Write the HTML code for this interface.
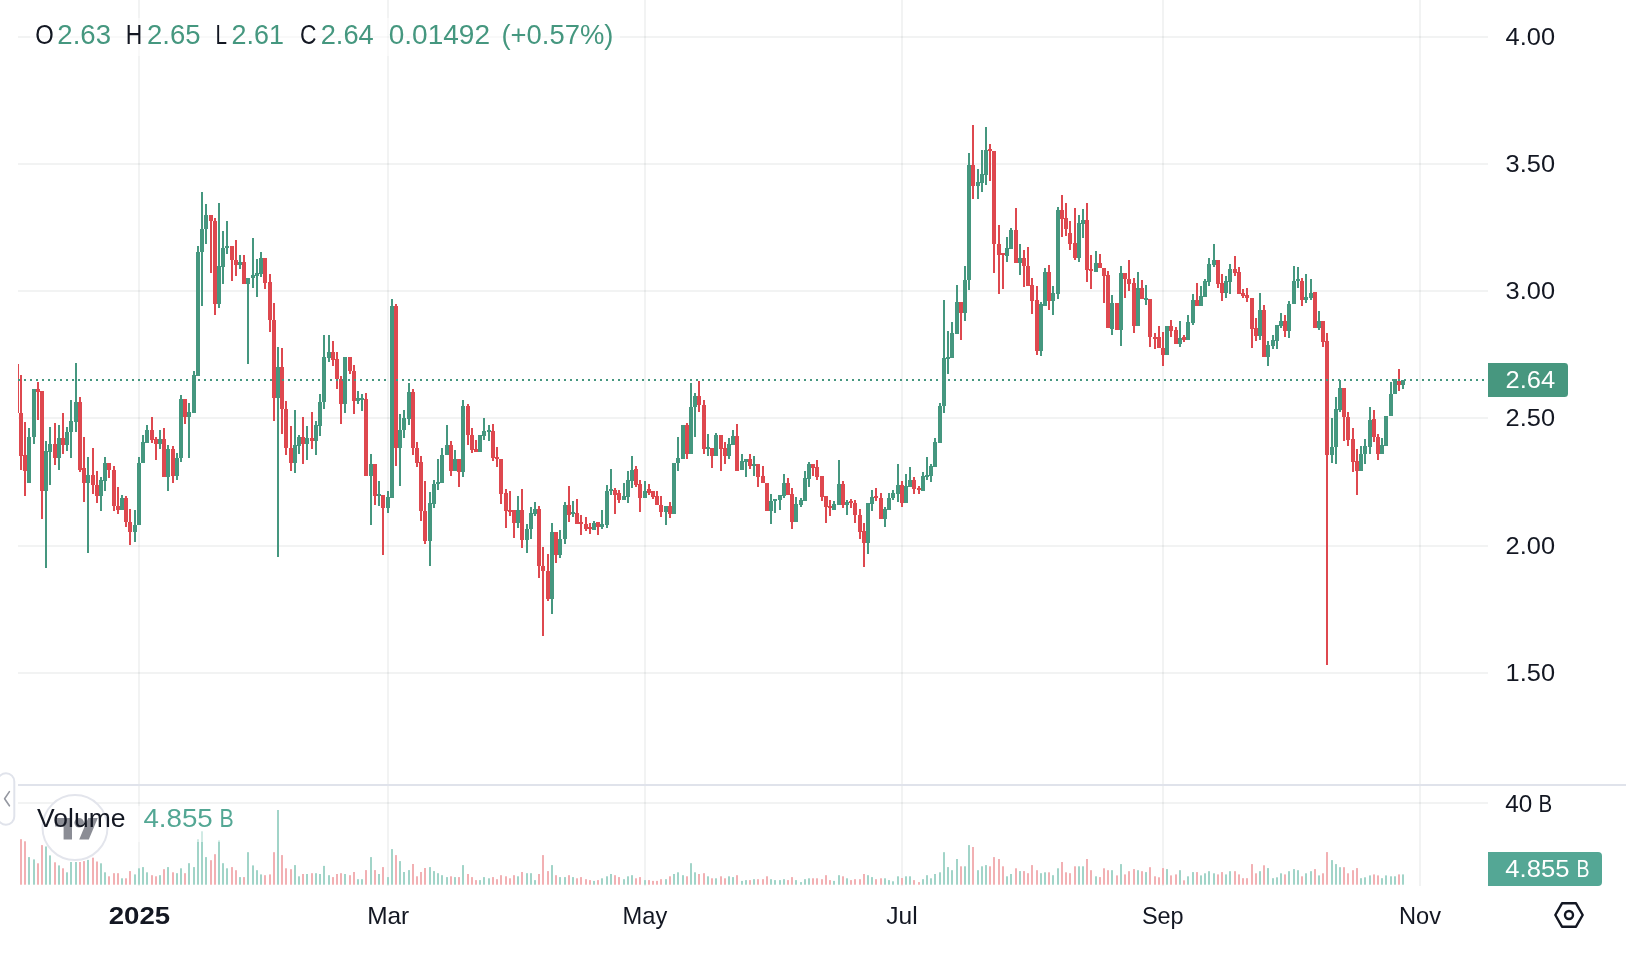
<!DOCTYPE html><html><head><meta charset="utf-8"><title>chart</title>
<style>html,body{margin:0;padding:0;background:#fff;}body{width:1626px;height:954px;overflow:hidden;font-family:"Liberation Sans",sans-serif;}svg{display:block;will-change:transform}text{font-family:"Liberation Sans",sans-serif;}</style></head><body>
<svg width="1626" height="954" viewBox="0 0 1626 954">
<rect width="1626" height="954" fill="#fff"/>
<defs><clipPath id="pane"><rect x="18" y="0" width="1470" height="886"/></clipPath></defs>
<g fill="#2a2e39" fill-opacity="0.06">
<rect x="18" y="36" width="1470" height="2"/>
<rect x="18" y="163" width="1470" height="2"/>
<rect x="18" y="290" width="1470" height="2"/>
<rect x="18" y="417" width="1470" height="2"/>
<rect x="18" y="545" width="1470" height="2"/>
<rect x="18" y="672" width="1470" height="2"/>
<rect x="18" y="802" width="1470" height="2"/>
<rect x="138" y="0" width="2" height="886"/>
<rect x="387" y="0" width="2" height="886"/>
<rect x="644" y="0" width="2" height="886"/>
<rect x="901" y="0" width="2" height="886"/>
<rect x="1162" y="0" width="2" height="886"/>
<rect x="1419" y="0" width="2" height="886"/>
</g>
<rect x="18" y="784" width="1608" height="2" fill="#e0e3eb"/>
<g clip-path="url(#pane)">
<rect x="20" y="839.2" width="2" height="45.5" fill="#f2b0b3"/>
<rect x="24" y="841.3" width="2" height="43.4" fill="#f2b0b3"/>
<rect x="28" y="857.1" width="2" height="27.6" fill="#a1d4c8"/>
<rect x="33" y="859.4" width="2" height="25.3" fill="#a1d4c8"/>
<rect x="37" y="863.3" width="2" height="21.4" fill="#f2b0b3"/>
<rect x="41" y="845.1" width="2" height="39.6" fill="#f2b0b3"/>
<rect x="45" y="846.5" width="2" height="38.2" fill="#a1d4c8"/>
<rect x="49" y="855.4" width="2" height="29.3" fill="#a1d4c8"/>
<rect x="54" y="862.3" width="2" height="22.4" fill="#f2b0b3"/>
<rect x="58" y="865.4" width="2" height="19.3" fill="#a1d4c8"/>
<rect x="62" y="868.3" width="2" height="16.4" fill="#f2b0b3"/>
<rect x="66" y="872.3" width="2" height="12.4" fill="#a1d4c8"/>
<rect x="70" y="862.0" width="2" height="22.7" fill="#a1d4c8"/>
<rect x="75" y="862.0" width="2" height="22.7" fill="#a1d4c8"/>
<rect x="79" y="862.0" width="2" height="22.7" fill="#f2b0b3"/>
<rect x="83" y="861.1" width="2" height="23.6" fill="#f2b0b3"/>
<rect x="87" y="859.9" width="2" height="24.8" fill="#a1d4c8"/>
<rect x="92" y="857.7" width="2" height="27.0" fill="#f2b0b3"/>
<rect x="96" y="861.5" width="2" height="23.2" fill="#f2b0b3"/>
<rect x="100" y="863.3" width="2" height="21.4" fill="#a1d4c8"/>
<rect x="104" y="872.3" width="2" height="12.4" fill="#a1d4c8"/>
<rect x="108" y="876.3" width="2" height="8.4" fill="#f2b0b3"/>
<rect x="113" y="873.2" width="2" height="11.5" fill="#f2b0b3"/>
<rect x="117" y="873.2" width="2" height="11.5" fill="#f2b0b3"/>
<rect x="121" y="878.3" width="2" height="6.4" fill="#a1d4c8"/>
<rect x="125" y="878.3" width="2" height="6.4" fill="#f2b0b3"/>
<rect x="129" y="871.1" width="2" height="13.6" fill="#f2b0b3"/>
<rect x="134" y="874.4" width="2" height="10.3" fill="#a1d4c8"/>
<rect x="138" y="868.3" width="2" height="16.4" fill="#a1d4c8"/>
<rect x="142" y="867.1" width="2" height="17.6" fill="#a1d4c8"/>
<rect x="146" y="872.3" width="2" height="12.4" fill="#a1d4c8"/>
<rect x="151" y="875.2" width="2" height="9.5" fill="#f2b0b3"/>
<rect x="155" y="876.3" width="2" height="8.4" fill="#f2b0b3"/>
<rect x="159" y="875.2" width="2" height="9.5" fill="#a1d4c8"/>
<rect x="163" y="869.2" width="2" height="15.5" fill="#f2b0b3"/>
<rect x="167" y="867.1" width="2" height="17.6" fill="#a1d4c8"/>
<rect x="172" y="872.3" width="2" height="12.4" fill="#f2b0b3"/>
<rect x="176" y="873.2" width="2" height="11.5" fill="#a1d4c8"/>
<rect x="180" y="868.3" width="2" height="16.4" fill="#a1d4c8"/>
<rect x="184" y="873.2" width="2" height="11.5" fill="#f2b0b3"/>
<rect x="188" y="863.2" width="2" height="21.5" fill="#a1d4c8"/>
<rect x="193" y="867.1" width="2" height="17.6" fill="#a1d4c8"/>
<rect x="197" y="839.2" width="2" height="45.5" fill="#a1d4c8"/>
<rect x="201" y="831.3" width="2" height="53.4" fill="#a1d4c8"/>
<rect x="205" y="857.1" width="2" height="27.6" fill="#a1d4c8"/>
<rect x="210" y="860.2" width="2" height="24.5" fill="#f2b0b3"/>
<rect x="214" y="854.2" width="2" height="30.5" fill="#f2b0b3"/>
<rect x="218" y="840.4" width="2" height="44.3" fill="#a1d4c8"/>
<rect x="222" y="863.2" width="2" height="21.5" fill="#a1d4c8"/>
<rect x="226" y="868.3" width="2" height="16.4" fill="#a1d4c8"/>
<rect x="231" y="867.1" width="2" height="17.6" fill="#f2b0b3"/>
<rect x="235" y="870.2" width="2" height="14.5" fill="#f2b0b3"/>
<rect x="239" y="877.1" width="2" height="7.6" fill="#a1d4c8"/>
<rect x="243" y="877.1" width="2" height="7.6" fill="#f2b0b3"/>
<rect x="247" y="852.2" width="2" height="32.5" fill="#a1d4c8"/>
<rect x="252" y="865.4" width="2" height="19.3" fill="#a1d4c8"/>
<rect x="256" y="870.2" width="2" height="14.5" fill="#a1d4c8"/>
<rect x="260" y="874.4" width="2" height="10.3" fill="#a1d4c8"/>
<rect x="264" y="875.2" width="2" height="9.5" fill="#f2b0b3"/>
<rect x="269" y="874.4" width="2" height="10.3" fill="#f2b0b3"/>
<rect x="273" y="852.2" width="2" height="32.5" fill="#f2b0b3"/>
<rect x="277" y="810.0" width="2" height="74.7" fill="#a1d4c8"/>
<rect x="281" y="855.1" width="2" height="29.6" fill="#f2b0b3"/>
<rect x="285" y="868.3" width="2" height="16.4" fill="#f2b0b3"/>
<rect x="290" y="869.2" width="2" height="15.5" fill="#f2b0b3"/>
<rect x="294" y="865.1" width="2" height="19.6" fill="#a1d4c8"/>
<rect x="298" y="876.3" width="2" height="8.4" fill="#a1d4c8"/>
<rect x="302" y="874.0" width="2" height="10.7" fill="#f2b0b3"/>
<rect x="306" y="874.0" width="2" height="10.7" fill="#a1d4c8"/>
<rect x="311" y="873.2" width="2" height="11.5" fill="#f2b0b3"/>
<rect x="315" y="873.2" width="2" height="11.5" fill="#a1d4c8"/>
<rect x="319" y="874.0" width="2" height="10.7" fill="#a1d4c8"/>
<rect x="323" y="865.9" width="2" height="18.8" fill="#a1d4c8"/>
<rect x="328" y="875.2" width="2" height="9.5" fill="#a1d4c8"/>
<rect x="332" y="877.1" width="2" height="7.6" fill="#f2b0b3"/>
<rect x="336" y="874.0" width="2" height="10.7" fill="#f2b0b3"/>
<rect x="340" y="873.2" width="2" height="11.5" fill="#f2b0b3"/>
<rect x="344" y="874.0" width="2" height="10.7" fill="#a1d4c8"/>
<rect x="349" y="875.2" width="2" height="9.5" fill="#f2b0b3"/>
<rect x="353" y="872.0" width="2" height="12.7" fill="#f2b0b3"/>
<rect x="357" y="879.2" width="2" height="5.5" fill="#a1d4c8"/>
<rect x="361" y="879.2" width="2" height="5.5" fill="#a1d4c8"/>
<rect x="365" y="870.1" width="2" height="14.6" fill="#f2b0b3"/>
<rect x="370" y="857.1" width="2" height="27.6" fill="#a1d4c8"/>
<rect x="374" y="870.1" width="2" height="14.6" fill="#f2b0b3"/>
<rect x="378" y="874.0" width="2" height="10.7" fill="#a1d4c8"/>
<rect x="382" y="867.1" width="2" height="17.6" fill="#f2b0b3"/>
<rect x="387" y="877.1" width="2" height="7.6" fill="#a1d4c8"/>
<rect x="391" y="849.1" width="2" height="35.6" fill="#a1d4c8"/>
<rect x="395" y="855.1" width="2" height="29.6" fill="#f2b0b3"/>
<rect x="399" y="861.1" width="2" height="23.6" fill="#a1d4c8"/>
<rect x="403" y="872.0" width="2" height="12.7" fill="#a1d4c8"/>
<rect x="408" y="870.1" width="2" height="14.6" fill="#a1d4c8"/>
<rect x="412" y="864.0" width="2" height="20.7" fill="#f2b0b3"/>
<rect x="416" y="876.3" width="2" height="8.4" fill="#f2b0b3"/>
<rect x="420" y="872.0" width="2" height="12.7" fill="#f2b0b3"/>
<rect x="424" y="868.0" width="2" height="16.7" fill="#f2b0b3"/>
<rect x="429" y="867.1" width="2" height="17.6" fill="#a1d4c8"/>
<rect x="433" y="871.1" width="2" height="13.6" fill="#a1d4c8"/>
<rect x="437" y="873.2" width="2" height="11.5" fill="#a1d4c8"/>
<rect x="441" y="875.2" width="2" height="9.5" fill="#a1d4c8"/>
<rect x="446" y="877.1" width="2" height="7.6" fill="#a1d4c8"/>
<rect x="450" y="876.3" width="2" height="8.4" fill="#f2b0b3"/>
<rect x="454" y="877.1" width="2" height="7.6" fill="#a1d4c8"/>
<rect x="458" y="877.1" width="2" height="7.6" fill="#f2b0b3"/>
<rect x="462" y="865.1" width="2" height="19.6" fill="#a1d4c8"/>
<rect x="467" y="874.0" width="2" height="10.7" fill="#f2b0b3"/>
<rect x="471" y="877.1" width="2" height="7.6" fill="#f2b0b3"/>
<rect x="475" y="880.1" width="2" height="4.6" fill="#f2b0b3"/>
<rect x="479" y="880.1" width="2" height="4.6" fill="#a1d4c8"/>
<rect x="483" y="877.1" width="2" height="7.6" fill="#a1d4c8"/>
<rect x="488" y="878.3" width="2" height="6.4" fill="#a1d4c8"/>
<rect x="492" y="877.1" width="2" height="7.6" fill="#f2b0b3"/>
<rect x="496" y="879.2" width="2" height="5.5" fill="#f2b0b3"/>
<rect x="500" y="875.2" width="2" height="9.5" fill="#f2b0b3"/>
<rect x="505" y="876.3" width="2" height="8.4" fill="#f2b0b3"/>
<rect x="509" y="878.3" width="2" height="6.4" fill="#f2b0b3"/>
<rect x="513" y="875.2" width="2" height="9.5" fill="#f2b0b3"/>
<rect x="517" y="876.3" width="2" height="8.4" fill="#a1d4c8"/>
<rect x="521" y="872.0" width="2" height="12.7" fill="#f2b0b3"/>
<rect x="526" y="873.2" width="2" height="11.5" fill="#a1d4c8"/>
<rect x="530" y="873.2" width="2" height="11.5" fill="#a1d4c8"/>
<rect x="534" y="880.1" width="2" height="4.6" fill="#a1d4c8"/>
<rect x="538" y="874.0" width="2" height="10.7" fill="#f2b0b3"/>
<rect x="542" y="855.1" width="2" height="29.6" fill="#f2b0b3"/>
<rect x="547" y="871.1" width="2" height="13.6" fill="#f2b0b3"/>
<rect x="551" y="865.1" width="2" height="19.6" fill="#a1d4c8"/>
<rect x="555" y="875.2" width="2" height="9.5" fill="#f2b0b3"/>
<rect x="559" y="877.1" width="2" height="7.6" fill="#a1d4c8"/>
<rect x="564" y="877.1" width="2" height="7.6" fill="#a1d4c8"/>
<rect x="568" y="875.2" width="2" height="9.5" fill="#f2b0b3"/>
<rect x="572" y="877.1" width="2" height="7.6" fill="#a1d4c8"/>
<rect x="576" y="878.3" width="2" height="6.4" fill="#f2b0b3"/>
<rect x="580" y="877.1" width="2" height="7.6" fill="#f2b0b3"/>
<rect x="585" y="879.2" width="2" height="5.5" fill="#f2b0b3"/>
<rect x="589" y="880.1" width="2" height="4.6" fill="#f2b0b3"/>
<rect x="593" y="880.9" width="2" height="3.8" fill="#a1d4c8"/>
<rect x="597" y="880.1" width="2" height="4.6" fill="#f2b0b3"/>
<rect x="601" y="878.3" width="2" height="6.4" fill="#a1d4c8"/>
<rect x="606" y="876.3" width="2" height="8.4" fill="#a1d4c8"/>
<rect x="610" y="874.0" width="2" height="10.7" fill="#a1d4c8"/>
<rect x="614" y="875.2" width="2" height="9.5" fill="#f2b0b3"/>
<rect x="618" y="877.1" width="2" height="7.6" fill="#f2b0b3"/>
<rect x="623" y="879.2" width="2" height="5.5" fill="#a1d4c8"/>
<rect x="627" y="876.3" width="2" height="8.4" fill="#a1d4c8"/>
<rect x="631" y="875.2" width="2" height="9.5" fill="#a1d4c8"/>
<rect x="635" y="878.3" width="2" height="6.4" fill="#f2b0b3"/>
<rect x="639" y="877.1" width="2" height="7.6" fill="#f2b0b3"/>
<rect x="644" y="880.1" width="2" height="4.6" fill="#a1d4c8"/>
<rect x="648" y="880.1" width="2" height="4.6" fill="#f2b0b3"/>
<rect x="652" y="880.9" width="2" height="3.8" fill="#f2b0b3"/>
<rect x="656" y="880.9" width="2" height="3.8" fill="#f2b0b3"/>
<rect x="660" y="879.2" width="2" height="5.5" fill="#f2b0b3"/>
<rect x="665" y="879.2" width="2" height="5.5" fill="#a1d4c8"/>
<rect x="669" y="876.3" width="2" height="8.4" fill="#f2b0b3"/>
<rect x="673" y="874.0" width="2" height="10.7" fill="#a1d4c8"/>
<rect x="677" y="872.3" width="2" height="12.4" fill="#a1d4c8"/>
<rect x="682" y="875.2" width="2" height="9.5" fill="#a1d4c8"/>
<rect x="686" y="876.3" width="2" height="8.4" fill="#f2b0b3"/>
<rect x="690" y="863.2" width="2" height="21.5" fill="#a1d4c8"/>
<rect x="694" y="872.3" width="2" height="12.4" fill="#a1d4c8"/>
<rect x="698" y="874.0" width="2" height="10.7" fill="#f2b0b3"/>
<rect x="703" y="873.2" width="2" height="11.5" fill="#f2b0b3"/>
<rect x="707" y="876.3" width="2" height="8.4" fill="#a1d4c8"/>
<rect x="711" y="878.3" width="2" height="6.4" fill="#f2b0b3"/>
<rect x="715" y="878.3" width="2" height="6.4" fill="#a1d4c8"/>
<rect x="720" y="876.3" width="2" height="8.4" fill="#f2b0b3"/>
<rect x="724" y="878.3" width="2" height="6.4" fill="#f2b0b3"/>
<rect x="728" y="876.3" width="2" height="8.4" fill="#a1d4c8"/>
<rect x="732" y="877.1" width="2" height="7.6" fill="#a1d4c8"/>
<rect x="736" y="875.2" width="2" height="9.5" fill="#f2b0b3"/>
<rect x="741" y="880.9" width="2" height="3.8" fill="#a1d4c8"/>
<rect x="745" y="880.1" width="2" height="4.6" fill="#a1d4c8"/>
<rect x="749" y="880.1" width="2" height="4.6" fill="#f2b0b3"/>
<rect x="753" y="879.2" width="2" height="5.5" fill="#a1d4c8"/>
<rect x="757" y="879.2" width="2" height="5.5" fill="#f2b0b3"/>
<rect x="762" y="879.2" width="2" height="5.5" fill="#f2b0b3"/>
<rect x="766" y="876.3" width="2" height="8.4" fill="#f2b0b3"/>
<rect x="770" y="879.2" width="2" height="5.5" fill="#a1d4c8"/>
<rect x="774" y="880.1" width="2" height="4.6" fill="#a1d4c8"/>
<rect x="779" y="880.1" width="2" height="4.6" fill="#a1d4c8"/>
<rect x="783" y="879.2" width="2" height="5.5" fill="#a1d4c8"/>
<rect x="787" y="880.1" width="2" height="4.6" fill="#f2b0b3"/>
<rect x="791" y="877.1" width="2" height="7.6" fill="#f2b0b3"/>
<rect x="795" y="880.1" width="2" height="4.6" fill="#a1d4c8"/>
<rect x="800" y="882.1" width="2" height="2.6" fill="#a1d4c8"/>
<rect x="804" y="879.2" width="2" height="5.5" fill="#a1d4c8"/>
<rect x="808" y="878.3" width="2" height="6.4" fill="#a1d4c8"/>
<rect x="812" y="878.3" width="2" height="6.4" fill="#f2b0b3"/>
<rect x="816" y="878.3" width="2" height="6.4" fill="#f2b0b3"/>
<rect x="821" y="879.2" width="2" height="5.5" fill="#f2b0b3"/>
<rect x="825" y="875.2" width="2" height="9.5" fill="#f2b0b3"/>
<rect x="829" y="880.1" width="2" height="4.6" fill="#f2b0b3"/>
<rect x="833" y="880.9" width="2" height="3.8" fill="#a1d4c8"/>
<rect x="838" y="875.2" width="2" height="9.5" fill="#a1d4c8"/>
<rect x="842" y="876.3" width="2" height="8.4" fill="#f2b0b3"/>
<rect x="846" y="878.3" width="2" height="6.4" fill="#a1d4c8"/>
<rect x="850" y="880.1" width="2" height="4.6" fill="#f2b0b3"/>
<rect x="854" y="879.2" width="2" height="5.5" fill="#f2b0b3"/>
<rect x="859" y="879.2" width="2" height="5.5" fill="#f2b0b3"/>
<rect x="863" y="874.0" width="2" height="10.7" fill="#f2b0b3"/>
<rect x="867" y="875.2" width="2" height="9.5" fill="#a1d4c8"/>
<rect x="871" y="877.1" width="2" height="7.6" fill="#a1d4c8"/>
<rect x="875" y="879.2" width="2" height="5.5" fill="#f2b0b3"/>
<rect x="880" y="878.3" width="2" height="6.4" fill="#f2b0b3"/>
<rect x="884" y="878.3" width="2" height="6.4" fill="#a1d4c8"/>
<rect x="888" y="880.1" width="2" height="4.6" fill="#a1d4c8"/>
<rect x="892" y="881.3" width="2" height="3.4" fill="#a1d4c8"/>
<rect x="897" y="876.3" width="2" height="8.4" fill="#a1d4c8"/>
<rect x="901" y="878.0" width="2" height="6.7" fill="#f2b0b3"/>
<rect x="905" y="876.3" width="2" height="8.4" fill="#a1d4c8"/>
<rect x="909" y="876.3" width="2" height="8.4" fill="#a1d4c8"/>
<rect x="913" y="880.1" width="2" height="4.6" fill="#f2b0b3"/>
<rect x="918" y="882.1" width="2" height="2.6" fill="#f2b0b3"/>
<rect x="922" y="879.2" width="2" height="5.5" fill="#a1d4c8"/>
<rect x="926" y="875.2" width="2" height="9.5" fill="#a1d4c8"/>
<rect x="930" y="878.3" width="2" height="6.4" fill="#a1d4c8"/>
<rect x="934" y="874.0" width="2" height="10.7" fill="#a1d4c8"/>
<rect x="939" y="872.3" width="2" height="12.4" fill="#a1d4c8"/>
<rect x="943" y="852.2" width="2" height="32.5" fill="#a1d4c8"/>
<rect x="947" y="867.1" width="2" height="17.6" fill="#a1d4c8"/>
<rect x="951" y="870.2" width="2" height="14.5" fill="#a1d4c8"/>
<rect x="956" y="859.0" width="2" height="25.7" fill="#a1d4c8"/>
<rect x="960" y="866.3" width="2" height="18.4" fill="#f2b0b3"/>
<rect x="964" y="866.3" width="2" height="18.4" fill="#a1d4c8"/>
<rect x="968" y="845.1" width="2" height="39.6" fill="#a1d4c8"/>
<rect x="972" y="847.0" width="2" height="37.7" fill="#f2b0b3"/>
<rect x="977" y="870.2" width="2" height="14.5" fill="#a1d4c8"/>
<rect x="981" y="866.3" width="2" height="18.4" fill="#a1d4c8"/>
<rect x="985" y="865.1" width="2" height="19.6" fill="#a1d4c8"/>
<rect x="989" y="866.3" width="2" height="18.4" fill="#f2b0b3"/>
<rect x="993" y="857.1" width="2" height="27.6" fill="#f2b0b3"/>
<rect x="998" y="859.0" width="2" height="25.7" fill="#f2b0b3"/>
<rect x="1002" y="866.3" width="2" height="18.4" fill="#f2b0b3"/>
<rect x="1006" y="876.3" width="2" height="8.4" fill="#a1d4c8"/>
<rect x="1010" y="874.0" width="2" height="10.7" fill="#a1d4c8"/>
<rect x="1015" y="868.3" width="2" height="16.4" fill="#f2b0b3"/>
<rect x="1019" y="871.1" width="2" height="13.6" fill="#a1d4c8"/>
<rect x="1023" y="871.1" width="2" height="13.6" fill="#f2b0b3"/>
<rect x="1027" y="873.2" width="2" height="11.5" fill="#f2b0b3"/>
<rect x="1031" y="865.1" width="2" height="19.6" fill="#f2b0b3"/>
<rect x="1036" y="870.2" width="2" height="14.5" fill="#f2b0b3"/>
<rect x="1040" y="873.2" width="2" height="11.5" fill="#a1d4c8"/>
<rect x="1044" y="872.3" width="2" height="12.4" fill="#a1d4c8"/>
<rect x="1048" y="872.3" width="2" height="12.4" fill="#f2b0b3"/>
<rect x="1052" y="875.2" width="2" height="9.5" fill="#a1d4c8"/>
<rect x="1057" y="868.3" width="2" height="16.4" fill="#a1d4c8"/>
<rect x="1061" y="862.0" width="2" height="22.7" fill="#f2b0b3"/>
<rect x="1065" y="872.3" width="2" height="12.4" fill="#f2b0b3"/>
<rect x="1069" y="873.2" width="2" height="11.5" fill="#f2b0b3"/>
<rect x="1074" y="866.3" width="2" height="18.4" fill="#f2b0b3"/>
<rect x="1078" y="866.3" width="2" height="18.4" fill="#a1d4c8"/>
<rect x="1082" y="866.3" width="2" height="18.4" fill="#a1d4c8"/>
<rect x="1086" y="859.0" width="2" height="25.7" fill="#f2b0b3"/>
<rect x="1090" y="870.2" width="2" height="14.5" fill="#f2b0b3"/>
<rect x="1095" y="876.3" width="2" height="8.4" fill="#a1d4c8"/>
<rect x="1099" y="877.1" width="2" height="7.6" fill="#f2b0b3"/>
<rect x="1103" y="868.3" width="2" height="16.4" fill="#f2b0b3"/>
<rect x="1107" y="870.2" width="2" height="14.5" fill="#f2b0b3"/>
<rect x="1111" y="870.2" width="2" height="14.5" fill="#a1d4c8"/>
<rect x="1116" y="875.4" width="2" height="9.3" fill="#f2b0b3"/>
<rect x="1120" y="864.1" width="2" height="20.6" fill="#a1d4c8"/>
<rect x="1124" y="874.4" width="2" height="10.3" fill="#f2b0b3"/>
<rect x="1128" y="871.2" width="2" height="13.5" fill="#f2b0b3"/>
<rect x="1133" y="869.1" width="2" height="15.6" fill="#f2b0b3"/>
<rect x="1137" y="870.2" width="2" height="14.5" fill="#a1d4c8"/>
<rect x="1141" y="871.2" width="2" height="13.5" fill="#f2b0b3"/>
<rect x="1145" y="872.1" width="2" height="12.6" fill="#a1d4c8"/>
<rect x="1149" y="867.2" width="2" height="17.5" fill="#f2b0b3"/>
<rect x="1154" y="876.3" width="2" height="8.4" fill="#f2b0b3"/>
<rect x="1158" y="877.3" width="2" height="7.4" fill="#f2b0b3"/>
<rect x="1162" y="868.1" width="2" height="16.6" fill="#f2b0b3"/>
<rect x="1166" y="869.1" width="2" height="15.6" fill="#a1d4c8"/>
<rect x="1170" y="875.4" width="2" height="9.3" fill="#f2b0b3"/>
<rect x="1175" y="874.4" width="2" height="10.3" fill="#f2b0b3"/>
<rect x="1179" y="870.2" width="2" height="14.5" fill="#a1d4c8"/>
<rect x="1183" y="880.3" width="2" height="4.4" fill="#f2b0b3"/>
<rect x="1187" y="876.3" width="2" height="8.4" fill="#a1d4c8"/>
<rect x="1192" y="872.1" width="2" height="12.6" fill="#a1d4c8"/>
<rect x="1196" y="872.1" width="2" height="12.6" fill="#f2b0b3"/>
<rect x="1200" y="875.4" width="2" height="9.3" fill="#a1d4c8"/>
<rect x="1204" y="873.3" width="2" height="11.4" fill="#a1d4c8"/>
<rect x="1208" y="871.2" width="2" height="13.5" fill="#a1d4c8"/>
<rect x="1213" y="873.3" width="2" height="11.4" fill="#a1d4c8"/>
<rect x="1217" y="874.4" width="2" height="10.3" fill="#f2b0b3"/>
<rect x="1221" y="872.1" width="2" height="12.6" fill="#f2b0b3"/>
<rect x="1225" y="874.4" width="2" height="10.3" fill="#a1d4c8"/>
<rect x="1229" y="871.2" width="2" height="13.5" fill="#a1d4c8"/>
<rect x="1234" y="871.2" width="2" height="13.5" fill="#f2b0b3"/>
<rect x="1238" y="874.4" width="2" height="10.3" fill="#f2b0b3"/>
<rect x="1242" y="878.2" width="2" height="6.5" fill="#f2b0b3"/>
<rect x="1246" y="878.2" width="2" height="6.5" fill="#f2b0b3"/>
<rect x="1251" y="864.1" width="2" height="20.6" fill="#f2b0b3"/>
<rect x="1255" y="873.3" width="2" height="11.4" fill="#f2b0b3"/>
<rect x="1259" y="871.2" width="2" height="13.5" fill="#a1d4c8"/>
<rect x="1263" y="865.3" width="2" height="19.4" fill="#f2b0b3"/>
<rect x="1267" y="868.1" width="2" height="16.6" fill="#a1d4c8"/>
<rect x="1272" y="878.2" width="2" height="6.5" fill="#a1d4c8"/>
<rect x="1276" y="877.3" width="2" height="7.4" fill="#a1d4c8"/>
<rect x="1280" y="873.3" width="2" height="11.4" fill="#a1d4c8"/>
<rect x="1284" y="874.4" width="2" height="10.3" fill="#f2b0b3"/>
<rect x="1288" y="871.2" width="2" height="13.5" fill="#a1d4c8"/>
<rect x="1293" y="869.1" width="2" height="15.6" fill="#a1d4c8"/>
<rect x="1297" y="870.2" width="2" height="14.5" fill="#a1d4c8"/>
<rect x="1301" y="876.3" width="2" height="8.4" fill="#f2b0b3"/>
<rect x="1305" y="873.3" width="2" height="11.4" fill="#a1d4c8"/>
<rect x="1310" y="871.2" width="2" height="13.5" fill="#a1d4c8"/>
<rect x="1314" y="869.1" width="2" height="15.6" fill="#f2b0b3"/>
<rect x="1318" y="875.4" width="2" height="9.3" fill="#a1d4c8"/>
<rect x="1322" y="873.3" width="2" height="11.4" fill="#f2b0b3"/>
<rect x="1326" y="852.1" width="2" height="32.6" fill="#f2b0b3"/>
<rect x="1331" y="860.1" width="2" height="24.6" fill="#a1d4c8"/>
<rect x="1335" y="864.1" width="2" height="20.6" fill="#a1d4c8"/>
<rect x="1339" y="867.2" width="2" height="17.5" fill="#a1d4c8"/>
<rect x="1343" y="867.2" width="2" height="17.5" fill="#f2b0b3"/>
<rect x="1347" y="873.3" width="2" height="11.4" fill="#f2b0b3"/>
<rect x="1352" y="870.2" width="2" height="14.5" fill="#f2b0b3"/>
<rect x="1356" y="868.1" width="2" height="16.6" fill="#f2b0b3"/>
<rect x="1360" y="878.2" width="2" height="6.5" fill="#a1d4c8"/>
<rect x="1364" y="877.3" width="2" height="7.4" fill="#a1d4c8"/>
<rect x="1369" y="875.4" width="2" height="9.3" fill="#a1d4c8"/>
<rect x="1373" y="874.4" width="2" height="10.3" fill="#f2b0b3"/>
<rect x="1377" y="875.4" width="2" height="9.3" fill="#f2b0b3"/>
<rect x="1381" y="878.2" width="2" height="6.5" fill="#a1d4c8"/>
<rect x="1385" y="875.4" width="2" height="9.3" fill="#a1d4c8"/>
<rect x="1390" y="876.3" width="2" height="8.4" fill="#a1d4c8"/>
<rect x="1394" y="876.3" width="2" height="8.4" fill="#a1d4c8"/>
<rect x="1398" y="874.4" width="2" height="10.3" fill="#f2b0b3"/>
<rect x="1402" y="874.4" width="2" height="10.3" fill="#a1d4c8"/>
</g>
<g clip-path="url(#pane)" shape-rendering="crispEdges">
<g fill="#45977f"><rect x="28" y="428.0" width="2" height="55.0"/><rect x="33" y="389.0" width="2" height="55.0"/><rect x="45" y="441.0" width="2" height="127.0"/><rect x="49" y="427.0" width="2" height="58.0"/><rect x="58" y="425.0" width="2" height="45.0"/><rect x="66" y="427.0" width="2" height="24.0"/><rect x="70" y="400.0" width="2" height="58.0"/><rect x="75" y="363.0" width="2" height="69.0"/><rect x="87" y="457.0" width="2" height="96.0"/><rect x="100" y="477.0" width="2" height="34.0"/><rect x="104" y="457.0" width="2" height="34.0"/><rect x="121" y="495.0" width="2" height="15.0"/><rect x="134" y="510.0" width="2" height="32.0"/><rect x="138" y="457.0" width="2" height="68.0"/><rect x="142" y="435.0" width="2" height="28.0"/><rect x="146" y="425.0" width="2" height="18.0"/><rect x="159" y="430.0" width="2" height="19.0"/><rect x="167" y="445.0" width="2" height="46.0"/><rect x="176" y="453.0" width="2" height="27.0"/><rect x="180" y="395.0" width="2" height="67.0"/><rect x="188" y="403.0" width="2" height="55.0"/><rect x="193" y="371.0" width="2" height="42.0"/><rect x="197" y="246.0" width="2" height="130.0"/><rect x="201" y="192.0" width="2" height="114.0"/><rect x="205" y="204.0" width="2" height="40.0"/><rect x="218" y="203.0" width="2" height="105.0"/><rect x="222" y="231.0" width="2" height="53.0"/><rect x="226" y="221.0" width="2" height="33.0"/><rect x="239" y="255.0" width="2" height="14.0"/><rect x="247" y="278.0" width="2" height="86.0"/><rect x="252" y="238.0" width="2" height="50.0"/><rect x="256" y="259.0" width="2" height="38.0"/><rect x="260" y="252.0" width="2" height="25.0"/><rect x="277" y="347.0" width="2" height="210.0"/><rect x="294" y="410.0" width="2" height="63.0"/><rect x="298" y="435.0" width="2" height="19.0"/><rect x="306" y="426.0" width="2" height="34.0"/><rect x="315" y="421.0" width="2" height="34.0"/><rect x="319" y="394.0" width="2" height="42.0"/><rect x="323" y="335.0" width="2" height="74.0"/><rect x="328" y="335.0" width="2" height="27.0"/><rect x="344" y="357.0" width="2" height="56.0"/><rect x="357" y="391.0" width="2" height="13.0"/><rect x="361" y="394.0" width="2" height="17.0"/><rect x="370" y="454.0" width="2" height="71.0"/><rect x="378" y="481.0" width="2" height="25.0"/><rect x="387" y="491.0" width="2" height="22.0"/><rect x="391" y="299.0" width="2" height="199.0"/><rect x="399" y="414.0" width="2" height="72.0"/><rect x="403" y="410.0" width="2" height="28.0"/><rect x="408" y="383.0" width="2" height="42.0"/><rect x="429" y="492.0" width="2" height="74.0"/><rect x="433" y="480.0" width="2" height="28.0"/><rect x="437" y="459.0" width="2" height="31.0"/><rect x="441" y="448.0" width="2" height="35.0"/><rect x="446" y="425.0" width="2" height="30.0"/><rect x="454" y="450.0" width="2" height="21.0"/><rect x="462" y="400.0" width="2" height="77.0"/><rect x="479" y="435.0" width="2" height="17.0"/><rect x="483" y="418.0" width="2" height="22.0"/><rect x="488" y="425.0" width="2" height="16.0"/><rect x="517" y="496.0" width="2" height="32.0"/><rect x="526" y="524.0" width="2" height="29.0"/><rect x="530" y="507.0" width="2" height="32.0"/><rect x="534" y="502.0" width="2" height="14.0"/><rect x="551" y="523.0" width="2" height="91.0"/><rect x="559" y="530.0" width="2" height="28.0"/><rect x="564" y="502.0" width="2" height="42.0"/><rect x="572" y="501.0" width="2" height="16.0"/><rect x="593" y="521.0" width="2" height="8.7"/><rect x="601" y="510.0" width="2" height="19.0"/><rect x="606" y="485.0" width="2" height="43.0"/><rect x="610" y="469.0" width="2" height="26.0"/><rect x="623" y="483.0" width="2" height="17.0"/><rect x="627" y="471.0" width="2" height="32.0"/><rect x="631" y="456.0" width="2" height="32.0"/><rect x="644" y="481.0" width="2" height="17.0"/><rect x="665" y="506.0" width="2" height="19.0"/><rect x="673" y="463.0" width="2" height="51.0"/><rect x="677" y="437.0" width="2" height="34.0"/><rect x="682" y="425.0" width="2" height="34.0"/><rect x="690" y="383.0" width="2" height="71.0"/><rect x="694" y="393.0" width="2" height="44.0"/><rect x="707" y="434.0" width="2" height="22.0"/><rect x="715" y="433.0" width="2" height="23.0"/><rect x="728" y="438.0" width="2" height="21.0"/><rect x="732" y="430.0" width="2" height="15.0"/><rect x="741" y="454.0" width="2" height="16.0"/><rect x="745" y="459.0" width="2" height="18.0"/><rect x="753" y="456.0" width="2" height="20.0"/><rect x="770" y="494.0" width="2" height="30.0"/><rect x="774" y="499.0" width="2" height="14.0"/><rect x="779" y="495.0" width="2" height="15.0"/><rect x="783" y="474.0" width="2" height="24.0"/><rect x="795" y="497.0" width="2" height="25.0"/><rect x="800" y="498.0" width="2" height="9.0"/><rect x="804" y="471.0" width="2" height="30.0"/><rect x="808" y="462.0" width="2" height="25.0"/><rect x="833" y="501.0" width="2" height="9.0"/><rect x="838" y="460.0" width="2" height="45.0"/><rect x="846" y="500.0" width="2" height="15.0"/><rect x="867" y="503.0" width="2" height="51.0"/><rect x="871" y="490.0" width="2" height="21.0"/><rect x="884" y="507.0" width="2" height="20.0"/><rect x="888" y="493.0" width="2" height="17.0"/><rect x="892" y="490.0" width="2" height="10.0"/><rect x="897" y="464.0" width="2" height="38.0"/><rect x="905" y="474.0" width="2" height="29.0"/><rect x="909" y="467.0" width="2" height="20.0"/><rect x="922" y="472.0" width="2" height="19.0"/><rect x="926" y="457.0" width="2" height="23.0"/><rect x="930" y="464.0" width="2" height="18.0"/><rect x="934" y="438.0" width="2" height="29.0"/><rect x="939" y="403.0" width="2" height="40.0"/><rect x="943" y="300.0" width="2" height="113.0"/><rect x="947" y="331.0" width="2" height="43.0"/><rect x="951" y="322.0" width="2" height="36.0"/><rect x="956" y="285.0" width="2" height="49.0"/><rect x="964" y="266.0" width="2" height="55.0"/><rect x="968" y="153.0" width="2" height="137.0"/><rect x="977" y="169.0" width="2" height="30.0"/><rect x="981" y="150.0" width="2" height="42.0"/><rect x="985" y="127.0" width="2" height="58.0"/><rect x="1006" y="237.0" width="2" height="25.0"/><rect x="1010" y="228.0" width="2" height="21.0"/><rect x="1019" y="244.0" width="2" height="31.0"/><rect x="1040" y="302.0" width="2" height="54.0"/><rect x="1044" y="268.0" width="2" height="38.0"/><rect x="1052" y="286.0" width="2" height="29.0"/><rect x="1057" y="207.0" width="2" height="92.0"/><rect x="1078" y="215.0" width="2" height="47.0"/><rect x="1082" y="209.0" width="2" height="29.0"/><rect x="1095" y="251.0" width="2" height="21.0"/><rect x="1111" y="295.0" width="2" height="40.0"/><rect x="1120" y="266.0" width="2" height="80.0"/><rect x="1137" y="272.0" width="2" height="54.0"/><rect x="1145" y="285.0" width="2" height="20.0"/><rect x="1166" y="326.0" width="2" height="29.0"/><rect x="1179" y="321.0" width="2" height="26.0"/><rect x="1187" y="315.0" width="2" height="25.0"/><rect x="1192" y="294.0" width="2" height="31.0"/><rect x="1200" y="286.0" width="2" height="20.0"/><rect x="1204" y="279.0" width="2" height="18.0"/><rect x="1208" y="258.0" width="2" height="28.0"/><rect x="1213" y="244.0" width="2" height="23.0"/><rect x="1225" y="276.0" width="2" height="22.0"/><rect x="1229" y="264.0" width="2" height="30.0"/><rect x="1259" y="293.0" width="2" height="47.0"/><rect x="1267" y="341.0" width="2" height="25.0"/><rect x="1272" y="335.0" width="2" height="14.0"/><rect x="1276" y="325.0" width="2" height="24.0"/><rect x="1280" y="313.0" width="2" height="15.0"/><rect x="1288" y="301.0" width="2" height="37.0"/><rect x="1293" y="266.0" width="2" height="38.0"/><rect x="1297" y="267.0" width="2" height="21.0"/><rect x="1305" y="274.0" width="2" height="29.0"/><rect x="1310" y="279.0" width="2" height="21.0"/><rect x="1318" y="311.0" width="2" height="19.0"/><rect x="1331" y="418.0" width="2" height="45.0"/><rect x="1335" y="397.0" width="2" height="67.0"/><rect x="1339" y="380.0" width="2" height="32.0"/><rect x="1360" y="446.0" width="2" height="25.0"/><rect x="1364" y="439.0" width="2" height="25.0"/><rect x="1369" y="407.0" width="2" height="47.0"/><rect x="1381" y="438.0" width="2" height="16.0"/><rect x="1385" y="416.0" width="2" height="30.0"/><rect x="1390" y="382.0" width="2" height="34.0"/><rect x="1394" y="379.0" width="2" height="15.0"/><rect x="1402" y="380.0" width="2" height="9.0"/></g>
<g fill="#de484f"><rect x="16" y="364.0" width="2" height="49.0"/><rect x="20" y="375.0" width="2" height="95.0"/><rect x="24" y="422.0" width="2" height="74.0"/><rect x="37" y="382.0" width="2" height="38.0"/><rect x="41" y="391.0" width="2" height="128.0"/><rect x="54" y="423.0" width="2" height="42.0"/><rect x="62" y="413.0" width="2" height="41.0"/><rect x="79" y="397.0" width="2" height="75.0"/><rect x="83" y="437.0" width="2" height="65.0"/><rect x="92" y="448.0" width="2" height="46.0"/><rect x="96" y="471.0" width="2" height="32.0"/><rect x="108" y="463.0" width="2" height="15.0"/><rect x="113" y="466.0" width="2" height="45.0"/><rect x="117" y="487.0" width="2" height="27.0"/><rect x="125" y="496.0" width="2" height="31.0"/><rect x="129" y="509.0" width="2" height="36.0"/><rect x="151" y="417.0" width="2" height="26.0"/><rect x="155" y="437.0" width="2" height="23.0"/><rect x="163" y="428.0" width="2" height="49.0"/><rect x="172" y="446.0" width="2" height="37.0"/><rect x="184" y="399.0" width="2" height="25.0"/><rect x="210" y="215.0" width="2" height="58.0"/><rect x="214" y="218.0" width="2" height="97.0"/><rect x="231" y="246.0" width="2" height="35.0"/><rect x="235" y="240.0" width="2" height="36.0"/><rect x="243" y="255.0" width="2" height="29.0"/><rect x="264" y="258.0" width="2" height="31.0"/><rect x="269" y="274.0" width="2" height="58.0"/><rect x="273" y="303.0" width="2" height="118.0"/><rect x="281" y="348.0" width="2" height="86.0"/><rect x="285" y="401.0" width="2" height="54.0"/><rect x="290" y="426.0" width="2" height="45.0"/><rect x="302" y="417.0" width="2" height="47.0"/><rect x="311" y="412.0" width="2" height="37.0"/><rect x="332" y="341.0" width="2" height="25.0"/><rect x="336" y="352.0" width="2" height="37.0"/><rect x="340" y="376.0" width="2" height="48.0"/><rect x="349" y="357.0" width="2" height="17.0"/><rect x="353" y="365.0" width="2" height="49.0"/><rect x="365" y="393.0" width="2" height="83.0"/><rect x="374" y="464.0" width="2" height="41.0"/><rect x="382" y="495.0" width="2" height="60.0"/><rect x="395" y="304.0" width="2" height="162.0"/><rect x="412" y="389.0" width="2" height="66.0"/><rect x="416" y="442.0" width="2" height="25.0"/><rect x="420" y="456.0" width="2" height="65.0"/><rect x="424" y="481.0" width="2" height="63.0"/><rect x="450" y="441.0" width="2" height="35.0"/><rect x="458" y="459.0" width="2" height="28.0"/><rect x="467" y="404.0" width="2" height="41.0"/><rect x="471" y="428.0" width="2" height="25.0"/><rect x="475" y="440.0" width="2" height="12.0"/><rect x="492" y="424.0" width="2" height="37.0"/><rect x="496" y="447.0" width="2" height="20.0"/><rect x="500" y="459.0" width="2" height="45.0"/><rect x="505" y="489.0" width="2" height="39.0"/><rect x="509" y="491.0" width="2" height="25.0"/><rect x="513" y="510.0" width="2" height="28.0"/><rect x="521" y="489.0" width="2" height="59.0"/><rect x="538" y="506.0" width="2" height="72.0"/><rect x="542" y="547.0" width="2" height="89.0"/><rect x="547" y="554.0" width="2" height="47.0"/><rect x="555" y="532.0" width="2" height="31.0"/><rect x="568" y="486.0" width="2" height="36.0"/><rect x="576" y="499.0" width="2" height="25.0"/><rect x="580" y="515.0" width="2" height="20.0"/><rect x="585" y="517.0" width="2" height="14.0"/><rect x="589" y="523.0" width="2" height="11.0"/><rect x="597" y="522.3" width="2" height="12.7"/><rect x="614" y="488.0" width="2" height="26.0"/><rect x="618" y="490.0" width="2" height="13.0"/><rect x="635" y="466.0" width="2" height="21.0"/><rect x="639" y="480.0" width="2" height="32.0"/><rect x="648" y="484.0" width="2" height="11.0"/><rect x="652" y="491.0" width="2" height="8.0"/><rect x="656" y="491.0" width="2" height="14.0"/><rect x="660" y="496.0" width="2" height="21.0"/><rect x="669" y="502.0" width="2" height="16.0"/><rect x="686" y="423.0" width="2" height="36.0"/><rect x="698" y="381.0" width="2" height="31.0"/><rect x="703" y="400.0" width="2" height="54.0"/><rect x="711" y="448.0" width="2" height="20.0"/><rect x="720" y="435.0" width="2" height="36.0"/><rect x="724" y="442.0" width="2" height="22.0"/><rect x="736" y="424.0" width="2" height="47.0"/><rect x="749" y="454.0" width="2" height="15.0"/><rect x="757" y="464.0" width="2" height="23.0"/><rect x="762" y="466.0" width="2" height="17.0"/><rect x="766" y="483.0" width="2" height="28.0"/><rect x="787" y="478.0" width="2" height="17.0"/><rect x="791" y="488.0" width="2" height="41.0"/><rect x="812" y="464.0" width="2" height="12.0"/><rect x="816" y="460.0" width="2" height="20.0"/><rect x="821" y="476.0" width="2" height="25.0"/><rect x="825" y="496.0" width="2" height="27.0"/><rect x="829" y="500.0" width="2" height="16.0"/><rect x="842" y="481.0" width="2" height="27.0"/><rect x="850" y="499.0" width="2" height="9.0"/><rect x="854" y="500.0" width="2" height="23.0"/><rect x="859" y="509.0" width="2" height="30.0"/><rect x="863" y="523.0" width="2" height="44.0"/><rect x="875" y="488.0" width="2" height="13.0"/><rect x="880" y="493.0" width="2" height="26.0"/><rect x="901" y="481.0" width="2" height="26.0"/><rect x="913" y="477.0" width="2" height="17.0"/><rect x="918" y="486.0" width="2" height="8.0"/><rect x="960" y="302.0" width="2" height="38.0"/><rect x="972" y="125.0" width="2" height="74.0"/><rect x="989" y="144.0" width="2" height="37.0"/><rect x="993" y="151.0" width="2" height="122.0"/><rect x="998" y="225.0" width="2" height="69.0"/><rect x="1002" y="253.0" width="2" height="36.0"/><rect x="1015" y="208.0" width="2" height="55.0"/><rect x="1023" y="250.0" width="2" height="37.0"/><rect x="1027" y="247.0" width="2" height="39.0"/><rect x="1031" y="278.0" width="2" height="36.0"/><rect x="1036" y="286.0" width="2" height="69.0"/><rect x="1048" y="265.0" width="2" height="45.0"/><rect x="1061" y="195.0" width="2" height="42.0"/><rect x="1065" y="203.0" width="2" height="33.0"/><rect x="1069" y="221.0" width="2" height="29.0"/><rect x="1074" y="208.0" width="2" height="52.0"/><rect x="1086" y="203.0" width="2" height="79.0"/><rect x="1090" y="255.0" width="2" height="34.0"/><rect x="1099" y="254.0" width="2" height="14.0"/><rect x="1103" y="268.0" width="2" height="35.0"/><rect x="1107" y="271.0" width="2" height="57.0"/><rect x="1116" y="303.0" width="2" height="27.0"/><rect x="1124" y="273.0" width="2" height="25.0"/><rect x="1128" y="260.0" width="2" height="31.0"/><rect x="1133" y="278.0" width="2" height="55.0"/><rect x="1141" y="280.0" width="2" height="19.0"/><rect x="1149" y="299.0" width="2" height="48.0"/><rect x="1154" y="333.0" width="2" height="16.0"/><rect x="1158" y="326.0" width="2" height="22.0"/><rect x="1162" y="332.0" width="2" height="34.0"/><rect x="1170" y="320.0" width="2" height="17.0"/><rect x="1175" y="327.0" width="2" height="17.0"/><rect x="1183" y="335.0" width="2" height="7.0"/><rect x="1196" y="283.0" width="2" height="23.0"/><rect x="1217" y="260.0" width="2" height="28.0"/><rect x="1221" y="274.0" width="2" height="27.0"/><rect x="1234" y="256.0" width="2" height="20.0"/><rect x="1238" y="267.0" width="2" height="27.0"/><rect x="1242" y="289.0" width="2" height="9.0"/><rect x="1246" y="288.0" width="2" height="14.0"/><rect x="1251" y="298.0" width="2" height="50.0"/><rect x="1255" y="318.0" width="2" height="23.0"/><rect x="1263" y="305.0" width="2" height="52.0"/><rect x="1284" y="315.0" width="2" height="22.0"/><rect x="1301" y="278.0" width="2" height="28.0"/><rect x="1314" y="292.0" width="2" height="36.0"/><rect x="1322" y="321.0" width="2" height="26.0"/><rect x="1326" y="333.0" width="2" height="332.0"/><rect x="1343" y="388.0" width="2" height="53.0"/><rect x="1347" y="412.0" width="2" height="34.0"/><rect x="1352" y="428.0" width="2" height="44.0"/><rect x="1356" y="449.0" width="2" height="46.0"/><rect x="1373" y="410.0" width="2" height="32.0"/><rect x="1377" y="434.0" width="2" height="26.0"/><rect x="1398" y="369.0" width="2" height="22.0"/></g>
<g fill="#45977f"><rect x="27" y="437.0" width="4" height="46.0"/><rect x="32" y="389.0" width="4" height="48.0"/><rect x="44" y="451.0" width="4" height="40.0"/><rect x="48" y="444.0" width="4" height="8.0"/><rect x="57" y="438.0" width="4" height="20.0"/><rect x="65" y="432.0" width="4" height="13.0"/><rect x="69" y="421.0" width="4" height="11.0"/><rect x="74" y="402.0" width="4" height="20.0"/><rect x="86" y="475.0" width="4" height="8.0"/><rect x="99" y="480.0" width="4" height="16.0"/><rect x="103" y="463.0" width="4" height="18.0"/><rect x="120" y="498.0" width="4" height="12.0"/><rect x="133" y="525.0" width="4" height="7.0"/><rect x="137" y="463.0" width="4" height="62.0"/><rect x="141" y="442.0" width="4" height="21.0"/><rect x="145" y="430.0" width="4" height="13.0"/><rect x="158" y="439.0" width="4" height="5.0"/><rect x="166" y="449.0" width="4" height="28.0"/><rect x="175" y="458.0" width="4" height="18.0"/><rect x="179" y="399.0" width="4" height="59.0"/><rect x="187" y="412.0" width="4" height="5.0"/><rect x="192" y="375.0" width="4" height="38.0"/><rect x="196" y="252.0" width="4" height="124.0"/><rect x="200" y="229.0" width="4" height="23.0"/><rect x="204" y="215.0" width="4" height="14.0"/><rect x="217" y="266.0" width="4" height="38.0"/><rect x="221" y="248.0" width="4" height="19.0"/><rect x="225" y="246.0" width="4" height="2.0"/><rect x="238" y="262.0" width="4" height="3.0"/><rect x="246" y="278.0" width="4" height="6.0"/><rect x="251" y="275.0" width="4" height="3.0"/><rect x="255" y="273.0" width="4" height="3.0"/><rect x="259" y="258.0" width="4" height="16.0"/><rect x="276" y="367.0" width="4" height="31.0"/><rect x="293" y="445.0" width="4" height="18.0"/><rect x="297" y="437.0" width="4" height="9.0"/><rect x="305" y="438.0" width="4" height="6.0"/><rect x="314" y="425.0" width="4" height="16.0"/><rect x="318" y="402.0" width="4" height="24.0"/><rect x="322" y="357.0" width="4" height="45.0"/><rect x="327" y="352.0" width="4" height="6.0"/><rect x="343" y="357.0" width="4" height="47.0"/><rect x="356" y="398.0" width="4" height="3.0"/><rect x="360" y="398.0" width="4" height="2.0"/><rect x="369" y="464.0" width="4" height="12.0"/><rect x="377" y="494.0" width="4" height="2.0"/><rect x="386" y="497.0" width="4" height="11.0"/><rect x="390" y="306.0" width="4" height="192.0"/><rect x="398" y="430.0" width="4" height="18.0"/><rect x="402" y="418.0" width="4" height="12.0"/><rect x="407" y="392.0" width="4" height="27.0"/><rect x="428" y="503.0" width="4" height="38.0"/><rect x="432" y="484.0" width="4" height="20.0"/><rect x="436" y="482.0" width="4" height="2.0"/><rect x="440" y="455.0" width="4" height="28.0"/><rect x="445" y="445.0" width="4" height="10.0"/><rect x="453" y="459.0" width="4" height="12.0"/><rect x="461" y="406.0" width="4" height="66.0"/><rect x="478" y="435.0" width="4" height="17.0"/><rect x="482" y="431.0" width="4" height="5.0"/><rect x="487" y="430.0" width="4" height="2.0"/><rect x="516" y="510.0" width="4" height="13.0"/><rect x="525" y="529.0" width="4" height="11.0"/><rect x="529" y="513.0" width="4" height="16.0"/><rect x="533" y="509.0" width="4" height="5.0"/><rect x="550" y="532.0" width="4" height="67.0"/><rect x="558" y="539.0" width="4" height="16.0"/><rect x="563" y="505.0" width="4" height="34.0"/><rect x="571" y="512.0" width="4" height="1.7"/><rect x="592" y="523.0" width="4" height="6.7"/><rect x="600" y="524.0" width="4" height="3.0"/><rect x="605" y="491.0" width="4" height="34.0"/><rect x="609" y="489.0" width="4" height="2.0"/><rect x="622" y="496.0" width="4" height="4.0"/><rect x="626" y="480.0" width="4" height="17.0"/><rect x="630" y="470.0" width="4" height="11.0"/><rect x="643" y="491.0" width="4" height="7.0"/><rect x="664" y="506.0" width="4" height="6.0"/><rect x="672" y="463.0" width="4" height="51.0"/><rect x="676" y="458.0" width="4" height="5.0"/><rect x="681" y="425.0" width="4" height="34.0"/><rect x="689" y="407.0" width="4" height="47.0"/><rect x="693" y="396.0" width="4" height="11.0"/><rect x="706" y="447.0" width="4" height="2.0"/><rect x="714" y="435.0" width="4" height="21.0"/><rect x="727" y="444.0" width="4" height="12.0"/><rect x="731" y="436.0" width="4" height="9.0"/><rect x="740" y="461.0" width="4" height="9.0"/><rect x="744" y="459.0" width="4" height="3.0"/><rect x="752" y="464.0" width="4" height="2.0"/><rect x="769" y="501.4" width="4" height="9.6"/><rect x="773" y="499.0" width="4" height="2.0"/><rect x="778" y="495.0" width="4" height="5.0"/><rect x="782" y="483.0" width="4" height="13.4"/><rect x="794" y="504.0" width="4" height="18.0"/><rect x="799" y="500.0" width="4" height="5.0"/><rect x="803" y="478.0" width="4" height="23.0"/><rect x="807" y="464.0" width="4" height="15.0"/><rect x="832" y="504.0" width="4" height="6.0"/><rect x="837" y="484.0" width="4" height="21.0"/><rect x="845" y="502.0" width="4" height="3.0"/><rect x="866" y="503.0" width="4" height="40.0"/><rect x="870" y="497.0" width="4" height="7.0"/><rect x="883" y="509.0" width="4" height="10.0"/><rect x="887" y="498.0" width="4" height="12.0"/><rect x="891" y="493.0" width="4" height="5.0"/><rect x="896" y="485.0" width="4" height="9.0"/><rect x="904" y="486.0" width="4" height="17.0"/><rect x="908" y="480.0" width="4" height="7.0"/><rect x="921" y="476.0" width="4" height="15.0"/><rect x="925" y="475.0" width="4" height="2.0"/><rect x="929" y="466.0" width="4" height="10.0"/><rect x="933" y="442.0" width="4" height="25.0"/><rect x="938" y="406.0" width="4" height="37.0"/><rect x="942" y="358.0" width="4" height="48.0"/><rect x="946" y="357.0" width="4" height="2.0"/><rect x="950" y="333.0" width="4" height="25.0"/><rect x="955" y="302.0" width="4" height="32.0"/><rect x="963" y="280.0" width="4" height="33.0"/><rect x="967" y="165.0" width="4" height="115.0"/><rect x="976" y="182.0" width="4" height="4.0"/><rect x="980" y="174.0" width="4" height="9.0"/><rect x="984" y="150.0" width="4" height="25.0"/><rect x="1005" y="248.0" width="4" height="8.0"/><rect x="1009" y="230.0" width="4" height="19.0"/><rect x="1018" y="258.0" width="4" height="5.0"/><rect x="1039" y="304.0" width="4" height="47.0"/><rect x="1043" y="272.0" width="4" height="34.0"/><rect x="1051" y="293.0" width="4" height="8.0"/><rect x="1056" y="210.0" width="4" height="84.0"/><rect x="1077" y="223.0" width="4" height="35.0"/><rect x="1081" y="220.0" width="4" height="4.0"/><rect x="1094" y="263.0" width="4" height="9.0"/><rect x="1110" y="303.0" width="4" height="26.0"/><rect x="1119" y="273.0" width="4" height="57.0"/><rect x="1136" y="288.0" width="4" height="38.0"/><rect x="1144" y="298.0" width="4" height="1.5"/><rect x="1165" y="326.0" width="4" height="29.0"/><rect x="1178" y="338.0" width="4" height="6.0"/><rect x="1186" y="322.0" width="4" height="18.0"/><rect x="1191" y="300.0" width="4" height="23.0"/><rect x="1199" y="296.0" width="4" height="10.0"/><rect x="1203" y="281.0" width="4" height="16.0"/><rect x="1207" y="264.0" width="4" height="18.0"/><rect x="1212" y="260.0" width="4" height="5.0"/><rect x="1224" y="281.0" width="4" height="12.0"/><rect x="1228" y="269.0" width="4" height="13.0"/><rect x="1258" y="310.0" width="4" height="26.0"/><rect x="1266" y="345.0" width="4" height="12.0"/><rect x="1271" y="340.0" width="4" height="6.0"/><rect x="1275" y="325.0" width="4" height="16.0"/><rect x="1279" y="321.0" width="4" height="5.0"/><rect x="1287" y="304.0" width="4" height="27.0"/><rect x="1292" y="281.0" width="4" height="23.0"/><rect x="1296" y="279.0" width="4" height="2.0"/><rect x="1304" y="297.0" width="4" height="3.0"/><rect x="1309" y="293.0" width="4" height="5.0"/><rect x="1317" y="321.0" width="4" height="7.0"/><rect x="1330" y="447.0" width="4" height="8.0"/><rect x="1334" y="409.0" width="4" height="38.0"/><rect x="1338" y="388.0" width="4" height="22.0"/><rect x="1359" y="454.0" width="4" height="17.0"/><rect x="1363" y="446.0" width="4" height="8.0"/><rect x="1368" y="420.0" width="4" height="27.0"/><rect x="1380" y="445.0" width="4" height="9.0"/><rect x="1384" y="416.0" width="4" height="30.0"/><rect x="1389" y="394.0" width="4" height="22.0"/><rect x="1393" y="379.0" width="4" height="15.0"/><rect x="1401" y="380.0" width="4" height="5.0"/></g>
<g fill="#de484f"><rect x="15" y="364.0" width="4" height="49.0"/><rect x="19" y="413.0" width="4" height="43.0"/><rect x="23" y="455.0" width="4" height="16.0"/><rect x="36" y="389.0" width="4" height="3.0"/><rect x="40" y="391.0" width="4" height="100.0"/><rect x="53" y="444.0" width="4" height="14.0"/><rect x="61" y="438.0" width="4" height="7.0"/><rect x="78" y="402.0" width="4" height="68.0"/><rect x="82" y="468.0" width="4" height="15.0"/><rect x="91" y="475.0" width="4" height="10.0"/><rect x="95" y="485.0" width="4" height="11.0"/><rect x="107" y="463.0" width="4" height="7.0"/><rect x="112" y="470.0" width="4" height="36.0"/><rect x="116" y="506.0" width="4" height="4.0"/><rect x="124" y="498.0" width="4" height="24.0"/><rect x="128" y="522.0" width="4" height="10.0"/><rect x="150" y="430.0" width="4" height="10.0"/><rect x="154" y="439.0" width="4" height="5.0"/><rect x="162" y="439.0" width="4" height="38.0"/><rect x="171" y="449.0" width="4" height="27.0"/><rect x="183" y="399.0" width="4" height="18.0"/><rect x="209" y="215.0" width="4" height="6.0"/><rect x="213" y="221.0" width="4" height="83.0"/><rect x="230" y="246.0" width="4" height="14.0"/><rect x="234" y="260.0" width="4" height="5.0"/><rect x="242" y="262.0" width="4" height="22.0"/><rect x="263" y="258.0" width="4" height="25.0"/><rect x="268" y="282.0" width="4" height="38.0"/><rect x="272" y="320.0" width="4" height="78.0"/><rect x="280" y="367.0" width="4" height="42.0"/><rect x="284" y="409.0" width="4" height="39.0"/><rect x="289" y="448.0" width="4" height="15.0"/><rect x="301" y="437.0" width="4" height="7.0"/><rect x="310" y="438.0" width="4" height="3.0"/><rect x="331" y="352.0" width="4" height="8.0"/><rect x="335" y="359.0" width="4" height="20.0"/><rect x="339" y="379.0" width="4" height="25.0"/><rect x="348" y="357.0" width="4" height="14.0"/><rect x="352" y="371.0" width="4" height="30.0"/><rect x="364" y="399.0" width="4" height="77.0"/><rect x="373" y="464.0" width="4" height="32.0"/><rect x="381" y="495.0" width="4" height="13.0"/><rect x="394" y="306.0" width="4" height="142.0"/><rect x="411" y="392.0" width="4" height="56.0"/><rect x="415" y="448.0" width="4" height="15.0"/><rect x="419" y="462.0" width="4" height="49.0"/><rect x="423" y="511.0" width="4" height="30.0"/><rect x="449" y="445.0" width="4" height="26.0"/><rect x="457" y="459.0" width="4" height="13.0"/><rect x="466" y="406.0" width="4" height="29.0"/><rect x="470" y="435.0" width="4" height="15.0"/><rect x="474" y="449.0" width="4" height="3.0"/><rect x="491" y="431.0" width="4" height="27.0"/><rect x="495" y="457.0" width="4" height="2.0"/><rect x="499" y="459.0" width="4" height="35.0"/><rect x="504" y="493.0" width="4" height="18.0"/><rect x="508" y="510.0" width="4" height="1.5"/><rect x="512" y="510.0" width="4" height="13.0"/><rect x="520" y="510.0" width="4" height="30.0"/><rect x="537" y="509.0" width="4" height="57.0"/><rect x="541" y="566.0" width="4" height="5.0"/><rect x="546" y="571.0" width="4" height="28.0"/><rect x="554" y="532.0" width="4" height="23.0"/><rect x="567" y="505.0" width="4" height="10.0"/><rect x="575" y="513.0" width="4" height="11.0"/><rect x="579" y="522.2" width="4" height="1.8"/><rect x="584" y="524.3" width="4" height="4.5"/><rect x="588" y="527.0" width="4" height="2.0"/><rect x="596" y="522.3" width="4" height="4.5"/><rect x="613" y="490.0" width="4" height="5.0"/><rect x="617" y="493.0" width="4" height="7.0"/><rect x="634" y="469.0" width="4" height="16.0"/><rect x="638" y="484.0" width="4" height="14.0"/><rect x="647" y="489.0" width="4" height="4.0"/><rect x="651" y="491.0" width="4" height="6.0"/><rect x="655" y="496.0" width="4" height="9.0"/><rect x="659" y="505.0" width="4" height="7.0"/><rect x="668" y="506.0" width="4" height="8.0"/><rect x="685" y="425.0" width="4" height="29.0"/><rect x="697" y="396.0" width="4" height="9.0"/><rect x="702" y="405.0" width="4" height="44.0"/><rect x="710" y="448.0" width="4" height="8.0"/><rect x="719" y="435.0" width="4" height="14.0"/><rect x="723" y="448.0" width="4" height="8.0"/><rect x="735" y="436.0" width="4" height="35.0"/><rect x="748" y="459.0" width="4" height="7.0"/><rect x="756" y="464.0" width="4" height="13.0"/><rect x="761" y="476.0" width="4" height="7.0"/><rect x="765" y="483.0" width="4" height="28.0"/><rect x="786" y="483.0" width="4" height="12.0"/><rect x="790" y="494.0" width="4" height="28.0"/><rect x="811" y="464.0" width="4" height="4.0"/><rect x="815" y="467.0" width="4" height="10.0"/><rect x="820" y="476.0" width="4" height="21.0"/><rect x="824" y="496.0" width="4" height="11.0"/><rect x="828" y="506.0" width="4" height="2.0"/><rect x="841" y="484.0" width="4" height="21.0"/><rect x="849" y="501.0" width="4" height="2.0"/><rect x="853" y="503.0" width="4" height="12.0"/><rect x="858" y="515.0" width="4" height="17.0"/><rect x="862" y="531.0" width="4" height="12.0"/><rect x="874" y="496.0" width="4" height="2.0"/><rect x="879" y="498.0" width="4" height="21.0"/><rect x="900" y="485.0" width="4" height="18.0"/><rect x="912" y="480.0" width="4" height="9.0"/><rect x="917" y="488.0" width="4" height="2.0"/><rect x="959" y="302.0" width="4" height="11.0"/><rect x="971" y="165.0" width="4" height="21.0"/><rect x="988" y="149.0" width="4" height="2.0"/><rect x="992" y="151.0" width="4" height="93.0"/><rect x="997" y="244.0" width="4" height="11.0"/><rect x="1001" y="253.0" width="4" height="2.0"/><rect x="1014" y="230.0" width="4" height="33.0"/><rect x="1022" y="258.0" width="4" height="8.0"/><rect x="1026" y="266.0" width="4" height="20.0"/><rect x="1030" y="285.0" width="4" height="16.0"/><rect x="1035" y="300.0" width="4" height="51.0"/><rect x="1047" y="272.0" width="4" height="29.0"/><rect x="1060" y="210.0" width="4" height="9.0"/><rect x="1064" y="218.0" width="4" height="11.0"/><rect x="1068" y="233.0" width="4" height="11.0"/><rect x="1073" y="243.0" width="4" height="15.0"/><rect x="1085" y="220.0" width="4" height="50.0"/><rect x="1089" y="269.0" width="4" height="2.0"/><rect x="1098" y="263.0" width="4" height="5.0"/><rect x="1102" y="268.0" width="4" height="8.0"/><rect x="1106" y="275.0" width="4" height="53.0"/><rect x="1115" y="303.0" width="4" height="27.0"/><rect x="1123" y="273.0" width="4" height="6.0"/><rect x="1127" y="279.0" width="4" height="5.0"/><rect x="1132" y="283.0" width="4" height="43.0"/><rect x="1140" y="288.0" width="4" height="11.0"/><rect x="1148" y="299.0" width="4" height="38.0"/><rect x="1153" y="337.0" width="4" height="1.5"/><rect x="1157" y="337.0" width="4" height="11.0"/><rect x="1161" y="348.0" width="4" height="7.0"/><rect x="1169" y="326.0" width="4" height="5.0"/><rect x="1174" y="330.0" width="4" height="14.0"/><rect x="1182" y="337.0" width="4" height="3.0"/><rect x="1195" y="300.0" width="4" height="6.0"/><rect x="1216" y="260.0" width="4" height="24.0"/><rect x="1220" y="283.0" width="4" height="10.0"/><rect x="1233" y="269.0" width="4" height="4.0"/><rect x="1237" y="272.0" width="4" height="22.0"/><rect x="1241" y="293.0" width="4" height="3.0"/><rect x="1245" y="295.0" width="4" height="3.0"/><rect x="1250" y="298.0" width="4" height="31.0"/><rect x="1254" y="328.0" width="4" height="8.0"/><rect x="1262" y="310.0" width="4" height="47.0"/><rect x="1283" y="321.0" width="4" height="10.0"/><rect x="1300" y="281.0" width="4" height="19.0"/><rect x="1313" y="292.0" width="4" height="36.0"/><rect x="1321" y="321.0" width="4" height="21.0"/><rect x="1325" y="341.0" width="4" height="114.0"/><rect x="1342" y="388.0" width="4" height="29.0"/><rect x="1346" y="417.0" width="4" height="23.0"/><rect x="1351" y="439.0" width="4" height="23.0"/><rect x="1355" y="461.0" width="4" height="10.0"/><rect x="1372" y="419.0" width="4" height="18.0"/><rect x="1376" y="437.0" width="4" height="17.0"/><rect x="1397" y="381.0" width="4" height="4.0"/></g>
</g>
<line x1="18" y1="380" x2="1488" y2="380" stroke="#45977f" stroke-width="2" stroke-dasharray="2 4"/>
<rect x="30" y="806" width="210" height="36" fill="#fff" fill-opacity="0.5"/>
<circle cx="75" cy="827.6" r="32.5" fill="#fff" stroke="#e3e5ec" stroke-width="2"/>
<g transform="translate(55.2,813.2) scale(1.2)" fill="#8b8d95"><path d="M14 22H7V11H0V4h14v18z"/><circle cx="20" cy="8" r="4"/><path d="M28 22h-8l7.5-18h8L28 22z"/></g>
<rect x="-2.3" y="773.2" width="16.6" height="51.6" rx="8.3" ry="8.3" fill="#fff" stroke="#e0e3eb" stroke-width="2"/>
<path d="M9.4 791.6 L4.6 798.7 L9.4 805.8" fill="none" stroke="#9598a1" stroke-width="1.6" stroke-linecap="round" stroke-linejoin="round"/>
<rect x="30" y="18" width="590" height="38" fill="#fff" fill-opacity="0.5"/>
<text x="35.3" y="44.4" font-size="26.8" fill="#131722" textLength="18.5" lengthAdjust="spacingAndGlyphs">O</text>
<text x="57.3" y="44.4" font-size="26.8" fill="#45977f" textLength="53.7" lengthAdjust="spacingAndGlyphs">2.63</text>
<text x="125.7" y="44.4" font-size="26.8" fill="#131722" textLength="16.5" lengthAdjust="spacingAndGlyphs">H</text>
<text x="147.0" y="44.4" font-size="26.8" fill="#45977f" textLength="53.6" lengthAdjust="spacingAndGlyphs">2.65</text>
<text x="215.5" y="44.4" font-size="26.8" fill="#131722" textLength="11.5" lengthAdjust="spacingAndGlyphs">L</text>
<text x="231.6" y="44.4" font-size="26.8" fill="#45977f" textLength="52.4" lengthAdjust="spacingAndGlyphs">2.61</text>
<text x="300.0" y="44.4" font-size="26.8" fill="#131722" textLength="16.5" lengthAdjust="spacingAndGlyphs">C</text>
<text x="320.7" y="44.4" font-size="26.8" fill="#45977f" textLength="53.0" lengthAdjust="spacingAndGlyphs">2.64</text>
<text x="388.7" y="44.4" font-size="26.8" fill="#45977f" textLength="101.3" lengthAdjust="spacingAndGlyphs">0.01492</text>
<text x="501.5" y="44.4" font-size="26.8" fill="#45977f" textLength="111.9" lengthAdjust="spacingAndGlyphs">(+0.57%)</text>
<text x="37.1" y="827.4" font-size="25.6" fill="#131722" textLength="88.5" lengthAdjust="spacingAndGlyphs">Volume</text>
<text x="143.4" y="827.4" font-size="25.6" fill="#53a794" textLength="69.4" lengthAdjust="spacingAndGlyphs">4.855</text>
<text x="219.5" y="827.4" font-size="25.6" fill="#53a794" textLength="14.2" lengthAdjust="spacingAndGlyphs">B</text>
<text x="1505.6" y="45.4" font-size="24.2" fill="#131722" textLength="49.4" lengthAdjust="spacingAndGlyphs">4.00</text>
<text x="1505.6" y="172.4" font-size="24.2" fill="#131722" textLength="49.4" lengthAdjust="spacingAndGlyphs">3.50</text>
<text x="1505.6" y="299.4" font-size="24.2" fill="#131722" textLength="49.4" lengthAdjust="spacingAndGlyphs">3.00</text>
<text x="1505.6" y="426.4" font-size="24.2" fill="#131722" textLength="49.4" lengthAdjust="spacingAndGlyphs">2.50</text>
<text x="1505.6" y="554.4" font-size="24.2" fill="#131722" textLength="49.4" lengthAdjust="spacingAndGlyphs">2.00</text>
<text x="1505.6" y="681.4" font-size="24.2" fill="#131722" textLength="49.4" lengthAdjust="spacingAndGlyphs">1.50</text>
<text x="1505.3" y="811.8" font-size="24.2" fill="#131722" textLength="27.0" lengthAdjust="spacingAndGlyphs">40</text>
<text x="1538.5" y="811.8" font-size="24.2" fill="#131722" textLength="13.7" lengthAdjust="spacingAndGlyphs">B</text>
<path d="M1488 363 H1564.5 a3.5 3.5 0 0 1 3.5 3.5 V393.5 a3.5 3.5 0 0 1 -3.5 3.5 H1488 Z" fill="#47977f"/>
<text x="1505.6" y="388.2" font-size="24.2" fill="#fff" textLength="49.6" lengthAdjust="spacingAndGlyphs">2.64</text>
<path d="M1488 852 H1598 a4 4 0 0 1 4 4 V882 a4 4 0 0 1 -4 4 H1488 Z" fill="#54a795"/>
<text x="1505.3" y="876.6" font-size="24.2" fill="#fff" textLength="64.1" lengthAdjust="spacingAndGlyphs">4.855</text>
<text x="1576.6" y="876.6" font-size="24.2" fill="#fff" textLength="13.0" lengthAdjust="spacingAndGlyphs">B</text>
<text x="139.4" y="924.0" font-size="24.8" fill="#131722" textLength="61.5" lengthAdjust="spacingAndGlyphs" font-weight="bold" text-anchor="middle">2025</text>
<text x="388.2" y="924.0" font-size="24.8" fill="#131722" textLength="42.1" lengthAdjust="spacingAndGlyphs" text-anchor="middle">Mar</text>
<text x="644.9" y="924.0" font-size="24.8" fill="#131722" textLength="44.7" lengthAdjust="spacingAndGlyphs" text-anchor="middle">May</text>
<text x="902.0" y="924.0" font-size="24.8" fill="#131722" textLength="31.4" lengthAdjust="spacingAndGlyphs" text-anchor="middle">Jul</text>
<text x="1162.8" y="924.0" font-size="24.8" fill="#131722" textLength="41.8" lengthAdjust="spacingAndGlyphs" text-anchor="middle">Sep</text>
<text x="1420.0" y="924.0" font-size="24.8" fill="#131722" textLength="42.0" lengthAdjust="spacingAndGlyphs" text-anchor="middle">Nov</text>
<path d="M1555.3 915 L1562 903.3 H1576 L1582.7 915 L1576 926.7 H1562 Z" fill="none" stroke="#131722" stroke-width="2.4" stroke-linejoin="round"/>
<circle cx="1569" cy="915" r="4" fill="none" stroke="#131722" stroke-width="2.4"/>
</svg></body></html>
